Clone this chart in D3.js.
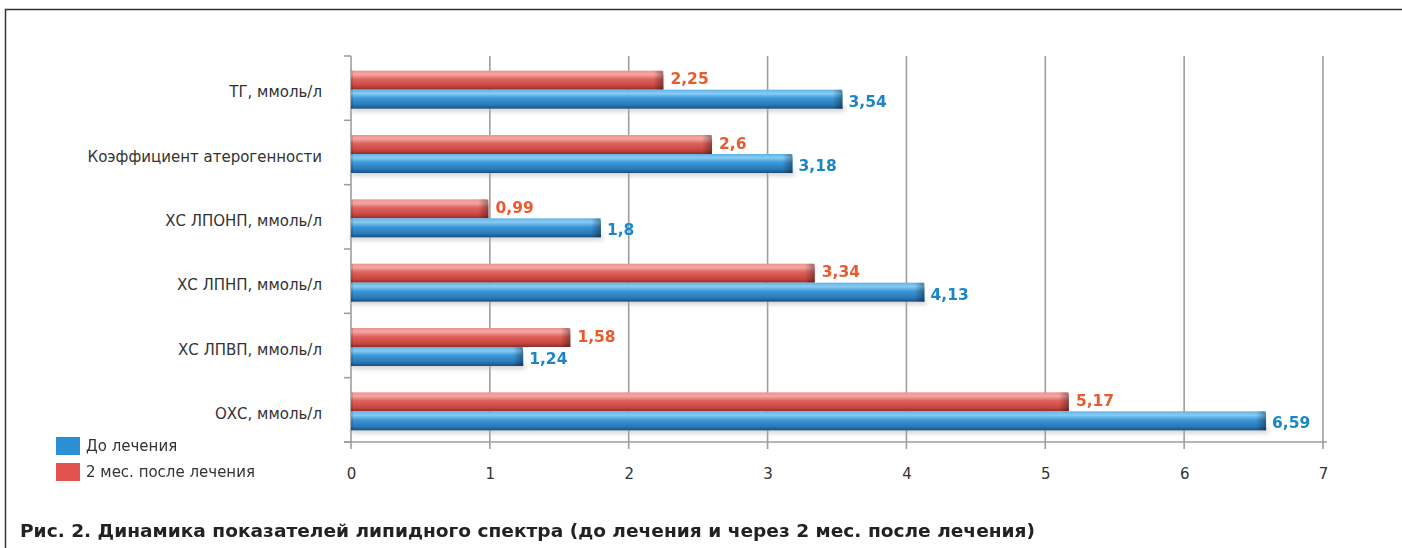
<!DOCTYPE html>
<html>
<head>
<meta charset="utf-8">
<script src="https://cdn.jsdelivr.net/npm/d3@7"></script>
<style>
  html, body { margin: 0; padding: 0; background: #fff; }
  svg { display: block; }
  text { font-family: "DejaVu Sans", "Liberation Sans", sans-serif; }
</style>
</head>
<body>
<svg id="chart" width="1402" height="548"></svg>
<script>
// Lipid profile indicators, top to bottom
const categories = [
  "ТГ, ммоль/л",
  "Коэффициент атерогенности",
  "ХС ЛПОНП, ммоль/л",
  "ХС ЛПНП, ммоль/л",
  "ХС ЛПВП, ммоль/л",
  "ОХС, ммоль/л"
];
const before = [3.54, 3.18, 1.8, 4.13, 1.24, 6.59];   // до лечения
const after  = [2.25, 2.6, 0.99, 3.34, 1.58, 5.17];   // через 2 мес.
const seriesNames = ["До лечения", "2 мес. после лечения"];
const xTicks = [0, 1, 2, 3, 4, 5, 6, 7];
const title = "Рис. 2. Динамика показателей липидного спектра (до лечения и через 2 мес. после лечения)";

const svg = d3.select("#chart");
const W = 1402, H = 548;
const plot = { left: 351, right: 1323, top: 56, bottom: 442 };

const x = d3.scaleLinear().domain([0, 7]).range([plot.left, plot.right]);
const y = d3.scaleBand().domain(categories).range([plot.top, plot.bottom]);
const barH = 19;

// gradients for cylindrical bars
const defs = svg.append("defs");
function grad(id, stops, horiz) {
  const g = defs.append("linearGradient").attr("id", id)
    .attr("x1", 0).attr("y1", 0).attr("x2", horiz ? 1 : 0).attr("y2", horiz ? 0 : 1);
  stops.forEach(([o, c, op]) => g.append("stop").attr("offset", o).attr("stop-color", c)
    .attr("stop-opacity", op == null ? 1 : op));
}
grad("gRed", [[0, "#ee928e"], [0.2, "#f4a7a3"], [0.45, "#e0615c"], [0.8, "#c8463f"], [1, "#8e2e2a"]]);
grad("gBlue", [[0, "#62b2e6"], [0.2, "#86ccf4"], [0.45, "#3a98d8"], [0.8, "#2a78b8"], [1, "#17507f"]]);
grad("gCap", [[0, "#000", 0], [1, "#000", 0.35]], true);
defs.append("filter").attr("id", "soft").attr("x", "-5%").attr("y", "-100%").attr("width", "110%").attr("height", "300%")
  .append("feGaussianBlur").attr("stdDeviation", 2.2);

// frame
svg.append("path").attr("d", `M5.5,${H} V9.5 H${W}`)
  .attr("fill", "none").attr("stroke", "#333").attr("stroke-width", 1.5);

// vertical grid lines
svg.append("g").selectAll("line").data(xTicks.slice(1)).join("line")
  .attr("x1", d => x(d)).attr("x2", d => x(d))
  .attr("y1", plot.top).attr("y2", plot.bottom + 7)
  .attr("stroke", "#9e9e9e").attr("stroke-width", 1.6);

// category axis (left) with ticks at band boundaries
const bounds = categories.map(c => y(c)).concat([plot.bottom]);
svg.append("line").attr("x1", plot.left).attr("x2", plot.left)
  .attr("y1", plot.top).attr("y2", plot.bottom + 7)
  .attr("stroke", "#9e9e9e").attr("stroke-width", 1.6);
svg.append("g").selectAll("line").data(bounds).join("line")
  .attr("x1", plot.left - 7).attr("x2", plot.left)
  .attr("y1", d => d).attr("y2", d => d)
  .attr("stroke", "#9e9e9e").attr("stroke-width", 1.6);

// value axis baseline
svg.append("line").attr("x1", plot.left - 7).attr("x2", plot.right + 4)
  .attr("y1", plot.bottom).attr("y2", plot.bottom)
  .attr("stroke", "#9e9e9e").attr("stroke-width", 1.6);

// x tick labels
const xAxis = d3.axisBottom(x).tickValues(xTicks).tickSize(0).tickPadding(0).tickFormat(d3.format("d"));
const xg = svg.append("g").attr("transform", `translate(0,${plot.bottom + 26})`).call(xAxis);
xg.select(".domain").remove();
xg.selectAll("text").attr("font-size", 15).attr("fill", "#333")
  .attr("font-family", "DejaVu Sans, sans-serif");

// category labels
svg.append("g").selectAll("text").data(categories).join("text")
  .attr("x", 322).attr("y", d => y(d) + y.bandwidth() / 2 + 4)
  .attr("text-anchor", "end").attr("dominant-baseline", "central")
  .attr("font-size", 15).attr("fill", "#333").text(d => d);

const rows = categories.map((c, i) => ({ c, before: before[i], after: after[i] }));
const mid = c => y(c) + y.bandwidth() / 2 + 1.5;

// shadows under bars
const shadow = svg.append("g").attr("filter", "url(#soft)");
rows.forEach(r => {
  shadow.append("rect").attr("x", x(0)).attr("y", mid(r.c) + barH - 3)
    .attr("width", x(r.before) - x(0) + 2).attr("height", 6)
    .attr("fill", "#b0b0b0").attr("opacity", 0.55);
});

function drawBar(g, v, top, fill) {
  const x0 = x(0), x1 = x(v);
  g.append("rect").attr("x", x0).attr("y", top).attr("width", x1 - x0).attr("height", barH)
    .attr("fill", `url(#${fill})`);
  // rounded darker end
  g.append("path")
    .attr("d", `M${x1 - 10},${top} L${x1 - 2},${top} Q${x1},${top + 1} ${x1},${top + 5} L${x1},${top + barH} L${x1 - 10},${top + barH} Z`)
    .attr("fill", "url(#gCap)");
  // left rim
  g.append("rect").attr("x", x0).attr("y", top).attr("width", 2).attr("height", barH)
    .attr("fill", "#000").attr("opacity", 0.12);
}

const bars = svg.append("g");
rows.forEach(r => {
  drawBar(bars, r.after, mid(r.c) - barH, "gRed");
  drawBar(bars, r.before, mid(r.c), "gBlue");
});

const fmt = v => String(v).replace(".", ",");
const labels = svg.append("g").attr("font-weight", "bold").attr("font-size", 15.5);
labels.selectAll("text.a").data(rows).join("text").attr("class", "a")
  .attr("x", d => x(d.after) + 7).attr("y", d => mid(d.c) - barH / 2 - 1)
  .attr("dominant-baseline", "central").attr("fill", "#ea5a2c").text(d => fmt(d.after));
labels.selectAll("text.b").data(rows).join("text").attr("class", "b")
  .attr("x", d => x(d.before) + 6).attr("y", d => mid(d.c) + barH / 2 + 2.5)
  .attr("dominant-baseline", "central").attr("fill", "#1a86c8").text(d => fmt(d.before));

// legend
const legend = svg.append("g");
const legColors = ["#2a8fd3", "#e2524e"];
seriesNames.forEach((n, i) => {
  legend.append("rect").attr("x", 56).attr("y", 437 + i * 26).attr("width", 24).attr("height", 18)
    .attr("fill", legColors[i]);
  legend.append("text").attr("x", 86).attr("y", 446 + i * 26).attr("dominant-baseline", "central")
    .attr("font-size", 15).attr("fill", "#333").text(n);
});

// caption
svg.append("text").attr("x", 20).attr("y", 537)
  .attr("font-size", 18).attr("font-weight", "bold").attr("fill", "#222")
  .attr("textLength", 1015).attr("lengthAdjust", "spacingAndGlyphs")
  .text(title);
</script>
</body>
</html>
